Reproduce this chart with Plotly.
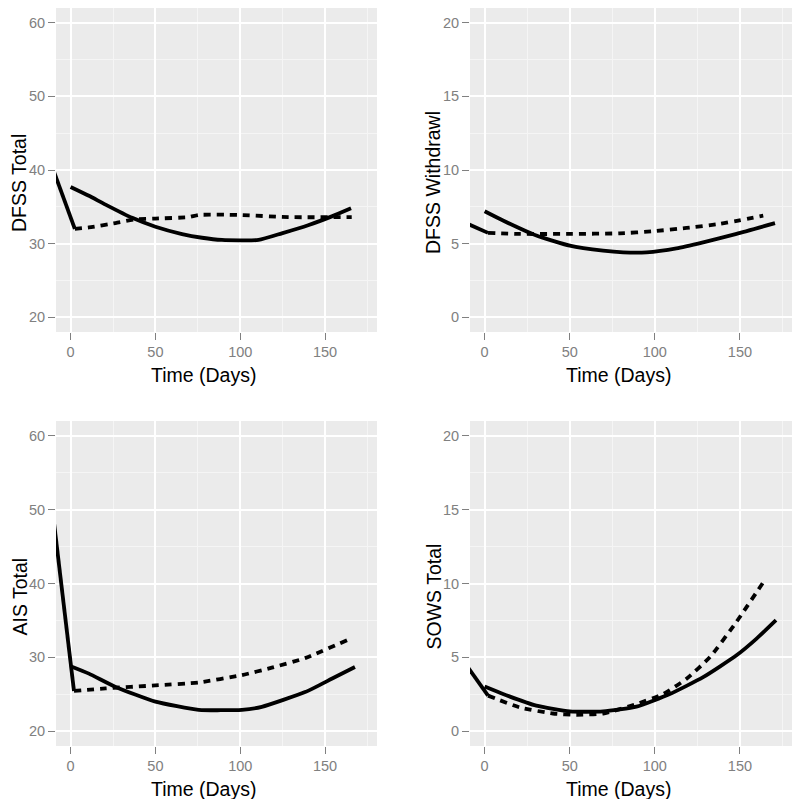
import plotly.graph_objects as go

# ---------------- data ----------------
x_label = "Time (Days)"
y_labels = ["DFSS Total", "DFSS Withdrawl", "AIS Total", "SOWS Total"]
x_ticks = [0, 50, 100, 150]
y_ticks_big = [20, 30, 40, 50, 60]
y_ticks_small = [0, 5, 10, 15, 20]

# DFSS Total
dfss_total_base_x = [-10, 2.5]
dfss_total_base_y = [39.9, 32.0]
dfss_total_solid_x = [0, 10.8, 20.6, 36.3, 50, 65.7, 77.5, 89.2, 110.8, 124.5, 140, 154, 165.3]
dfss_total_solid_y = [37.7, 36.5, 35.3, 33.5, 32.3, 31.3, 30.8, 30.5, 30.5, 31.4, 32.5, 33.7, 34.8]
dfss_total_dash_x = [2.5, 10.8, 26.5, 38.2, 50, 69.6, 75.5, 99, 128.4, 165.7]
dfss_total_dash_y = [32.0, 32.2, 32.8, 33.3, 33.4, 33.6, 33.9, 33.9, 33.6, 33.6]

# DFSS Withdrawl
dfss_wd_base_x = [-10, 2.0]
dfss_wd_base_y = [6.35, 5.73]
dfss_wd_solid_x = [0, 10.8, 30.4, 50, 69.6, 81.4, 95.1, 112.7, 128.4, 148, 170.6]
dfss_wd_solid_y = [7.2, 6.57, 5.55, 4.86, 4.52, 4.41, 4.41, 4.68, 5.09, 5.66, 6.39]
dfss_wd_dash_x = [2.0, 20.6, 50, 79.4, 99, 118.6, 138.2, 163.7]
dfss_wd_dash_y = [5.73, 5.66, 5.66, 5.7, 5.84, 6.07, 6.34, 6.9]

# AIS Total
ais_base_x = [-10, 2.0]
ais_base_y = [48.7, 25.45]
ais_solid_x = [0, 10.8, 26.5, 50, 75.5, 101, 112.7, 138.2, 153.9, 167.6]
ais_solid_y = [28.8, 27.8, 26.0, 24.0, 22.9, 22.9, 23.3, 25.3, 27.1, 28.7]
ais_dash_x = [2.0, 20.6, 50, 75.5, 101, 118.6, 138.2, 163.7]
ais_dash_y = [25.45, 25.8, 26.2, 26.6, 27.6, 28.6, 29.9, 32.4]

# SOWS Total
sows_base_x = [-10, 2.0]
sows_base_y = [4.35, 2.41]
sows_solid_x = [0, 10.8, 30.4, 50, 69.6, 89.2, 108.8, 128.4, 148, 159.8, 171.2]
sows_solid_y = [3.02, 2.52, 1.73, 1.34, 1.34, 1.66, 2.52, 3.66, 5.14, 6.27, 7.52]
sows_dash_x = [2.0, 20.6, 40.2, 53.9, 69.6, 89.2, 104.9, 118.6, 132.4, 148, 164.7]
sows_dash_y = [2.41, 1.61, 1.2, 1.11, 1.2, 1.84, 2.52, 3.55, 5.02, 7.41, 10.25]

panels = [
    (dfss_total_base_x, dfss_total_base_y, dfss_total_solid_x, dfss_total_solid_y,
     dfss_total_dash_x, dfss_total_dash_y),
    (dfss_wd_base_x, dfss_wd_base_y, dfss_wd_solid_x, dfss_wd_solid_y,
     dfss_wd_dash_x, dfss_wd_dash_y),
    (ais_base_x, ais_base_y, ais_solid_x, ais_solid_y, ais_dash_x, ais_dash_y),
    (sows_base_x, sows_base_y, sows_solid_x, sows_solid_y, sows_dash_x, sows_dash_y),
]

# ---------------- layout geometry ----------------
# the page body has an 8px margin, so the figure is offset by 8px
OFF = 8
W, H = 800 - 2 * OFF, 807 - 2 * OFF
panel_px = [  # x0, x1, y0(top), y1(bottom) in window pixels
    (56, 377, 8, 332),
    (470, 792, 8, 332),
    (56, 377, 421, 746),
    (470, 792, 421, 746),
]
y_ranges = [[18, 62], [-1, 21], [18, 62], [-1, 21]]
y_ticks = [y_ticks_big, y_ticks_small, y_ticks_big, y_ticks_small]
y_minor = [5, 2.5, 5, 2.5]
x_range = [-8.6, 180.6]

FONT = "Liberation Sans, Arial, sans-serif"
LINE_W = 3.8


def fx(px):
    return min(1.0, max(0.0, (px - OFF) / W))


def fy(py):
    return min(1.0, max(0.0, 1 - (py - OFF) / H))


fig = go.Figure()
layout = dict(
    width=W, height=H,
    margin=dict(l=0, r=0, t=0, b=0),
    paper_bgcolor="white",
    plot_bgcolor="#EBEBEB",
    showlegend=False,
    font=dict(family=FONT),
    annotations=[],
)

for i, (bx, by, sx, sy, dx, dy) in enumerate(panels):
    n = "" if i == 0 else str(i + 1)
    xa, ya = "x" + n, "y" + n
    fig.add_trace(go.Scatter(x=bx, y=by, mode="lines", xaxis=xa, yaxis=ya,
                             line=dict(color="black", width=LINE_W)))
    fig.add_trace(go.Scatter(x=sx, y=sy, mode="lines", xaxis=xa, yaxis=ya,
                             line=dict(color="black", width=LINE_W,
                                       shape="spline", smoothing=0.5)))
    fig.add_trace(go.Scatter(x=dx, y=dy, mode="lines", xaxis=xa, yaxis=ya,
                             line=dict(color="black", width=LINE_W, dash="7px,6px",
                                       shape="spline", smoothing=0.5)))

    x0, x1, y0, y1 = panel_px[i]
    common = dict(
        showline=False, zeroline=False, showgrid=True,
        gridcolor="white", gridwidth=1.6,
        ticks="outside", ticklen=7, tickwidth=1, tickcolor="#808080",
        tickfont=dict(size=14.5, color="#808080", family=FONT),
        minor=dict(showgrid=True, gridcolor="#F5F5F5", gridwidth=1, ticks=""),
    )
    layout["xaxis" + n] = dict(
        common, domain=[fx(x0), fx(x1)], anchor=ya, range=x_range,
        tickmode="array", tickvals=x_ticks, minor=dict(common["minor"], dtick=25, tick0=0),
    )
    layout["yaxis" + n] = dict(
        common, domain=[fy(y1), fy(y0)], anchor=xa, range=y_ranges[i],
        tickmode="array", tickvals=y_ticks[i],
        minor=dict(common["minor"], dtick=y_minor[i], tick0=0),
    )
    # axis titles
    layout["annotations"].append(dict(
        text=x_label, xref="paper", yref="paper",
        x=fx((x0 + x1) / 2 - 13), y=fy(y1 + 43),
        xanchor="center", yanchor="middle", showarrow=False,
        font=dict(size=19.5, color="black", family=FONT)))
    layout["annotations"].append(dict(
        text=y_labels[i], xref="paper", yref="paper",
        x=fx(x0 - 37), y=fy((y0 + y1) / 2 + 13),
        xanchor="center", yanchor="middle", textangle=-90, showarrow=False,
        borderpad=0,
        font=dict(size=19.5, color="black", family=FONT)))

fig.update_layout(**layout)
fig.write_html("out.html")
